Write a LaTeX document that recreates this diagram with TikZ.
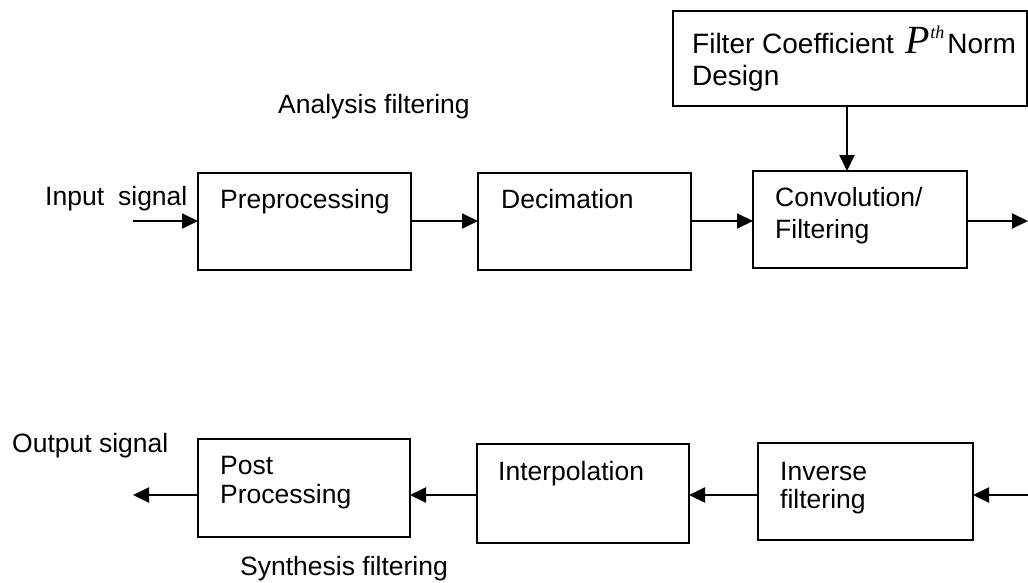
\documentclass[tikz,border=0pt]{standalone}
\usepackage{fontspec}
\setmainfont{Liberation Sans}
\newfontfamily\tnr{Liberation Serif}
\usetikzlibrary{arrows.meta}
\begin{document}
\begin{tikzpicture}[x=1pt,y=-1pt,
  box/.style={draw,line width=2pt,inner sep=0pt,outer sep=0pt,anchor=north west},
  txt/.style={anchor=base west,inner sep=0pt,font=\fontsize{26.5}{30}\selectfont},
  bigtxt/.style={txt,font=\fontsize{28}{32}\selectfont},
  arr/.style={line width=2pt,-{Triangle[length=16pt,width=15pt]}}]
\useasboundingbox (0,0) rectangle (1028,582);
% boxes
\node[box,minimum width=354pt,minimum height=95pt] (top) at (673,11) {};
\node[box,minimum width=213pt,minimum height=97pt] (pre) at (198,173) {};
\node[box,minimum width=213pt,minimum height=97pt] (dec) at (478,173) {};
\node[box,minimum width=214pt,minimum height=97pt] (conv) at (753,171) {};
\node[box,minimum width=212pt,minimum height=98pt] (post) at (198,439) {};
\node[box,minimum width=212pt,minimum height=99pt] (interp) at (477,444) {};
\node[box,minimum width=215pt,minimum height=97pt] (inv) at (758,443) {};
% texts
\node[txt] (tIn) at (45,205) {Input\hspace{14pt}signal};
\node[txt] (tAna) at (278,113) {Analysis filtering};
\node[txt] (tPre) at (220,208) {Preprocessing};
\node[txt] (tDec) at (501,208) {Decimation};
\node[txt] (tConv1) at (775,206) {Convolution/};
\node[txt] (tConv2) at (775,238) {Filtering};
\node[bigtxt] (tTop1) at (692,53) {Filter Coefficient\hspace{12pt}{\tnr\itshape\fontsize{40}{40}\selectfont P}\raisebox{15pt}{\tnr\itshape\fontsize{18}{18}\selectfont th}\hspace{3pt}Norm};
\node[bigtxt] (tTop2) at (692,85) {Design};
\node[txt] (tOut) at (12,452) {Output signal};
\node[txt] (tPost1) at (220,474) {Post};
\node[txt] (tPost2) at (220,503) {Processing};
\node[txt] (tInt) at (498,480) {Interpolation};
\node[txt] (tInv1) at (780,480) {Inverse};
\node[txt] (tInv2) at (780,508) {filtering};
\node[txt] (tSyn) at (240,575) {Synthesis filtering};
% connector ends
\coordinate (inA) at (133,221);
\coordinate (outA) at (1028,221);
\coordinate (inB) at (1028,495);
\coordinate (outB) at (133,495);
\coordinate (vx) at (847,0);
% arrows top row
\draw[arr] (inA) -- (inA -| pre.west);
\draw[arr] (inA -| pre.east) -- (inA -| dec.west);
\draw[arr] (inA -| dec.east) -- (inA -| conv.west);
\draw[arr] (inA -| conv.east) -- (outA);
\draw[arr] (vx |- top.south) -- (vx |- conv.north);
% arrows bottom row
\draw[arr] (inB) -- (inB -| inv.east);
\draw[arr] (inB -| inv.west) -- (inB -| interp.east);
\draw[arr] (inB -| interp.west) -- (inB -| post.east);
\draw[arr] (inB -| post.west) -- (outB);
\end{tikzpicture}
\end{document}
